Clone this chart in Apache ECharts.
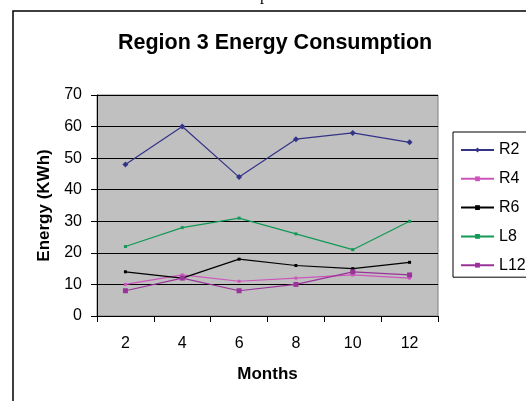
<!DOCTYPE html>
<html>
<head>
<meta charset="utf-8">
<script src="https://cdn.jsdelivr.net/npm/echarts@6/dist/echarts.min.js"></script>
<style>
html,body{margin:0;padding:0;background:#fff;}
#main{width:526px;height:401px;}
</style>
</head>
<body>
<div id="main"></div>
<script>
const months = ['2', '4', '6', '8', '10', '12'];
const R2 = [48, 60, 44, 56, 58, 55];
const R4 = [10, 13, 11, 12, 13, 12];
const R6 = [14, 12, 18, 16, 15, 17];
const L8 = [22, 28, 31, 26, 21, 30];
const L12 = [8, 12, 8, 10, 14, 13];
const yTicks = {min: 0, max: 70, interval: 10};

const font = 'Liberation Sans, Arial, sans-serif';
const chart = echarts.init(document.getElementById('main'));

function line(name, data, color, symbol, size) {
  return {
    name: name, type: 'line', data: data,
    symbol: symbol, symbolSize: size, showSymbol: true,
    lineStyle: {color: color, width: 1.2},
    itemStyle: {color: color},
    emphasis: {disabled: true},
    animation: false
  };
}

chart.setOption({
  animation: false,
  backgroundColor: '#ffffff',
  title: {
    text: 'Region 3 Energy Consumption',
    left: 113, top: 27,
    textStyle: {fontFamily: font, fontSize: 21.5, fontWeight: 'bold', color: '#000'}
  },
  graphic: [
    {type: 'rect', shape: {x: 13, y: 11, width: 700, height: 600},
     style: {fill: 'none', stroke: '#000', lineWidth: 1.5}, silent: true, z: 0},
    {type: 'text', left: 260, top: -12,
     style: {text: 'p', font: '16px "Liberation Serif", serif', fill: '#000'}, silent: true}
  ],
  legend: {
    orient: 'vertical',
    left: 453, top: 132,
    padding: [10, 40, 4, 7],
    itemWidth: 33, itemHeight: 6, itemGap: 12.8,
    backgroundColor: '#fff',
    borderColor: '#000', borderWidth: 1,
    textStyle: {fontFamily: font, fontSize: 16, color: '#000', lineHeight: 16},
    data: ['R2', 'R4', 'R6', 'L8', 'L12']
  },
  grid: {
    left: 97, top: 95, right: 88, bottom: 85,
    show: true, backgroundColor: '#C0C0C0', borderColor: '#808080', borderWidth: 1
  },
  xAxis: {
    type: 'category', data: months, boundaryGap: true,
    name: 'Months', nameLocation: 'middle', nameGap: 50,
    nameTextStyle: {fontFamily: font, fontSize: 17, fontWeight: 'bold', color: '#000'},
    axisLine: {lineStyle: {color: '#000', width: 1}},
    axisTick: {show: true, length: 6, inside: false, alignWithLabel: false, lineStyle: {color: '#000'}},
    axisLabel: {fontFamily: font, fontSize: 16, color: '#000', margin: 20}
  },
  yAxis: {
    type: 'value', min: yTicks.min, max: yTicks.max, interval: yTicks.interval,
    name: 'Energy (KWh)', nameLocation: 'middle', nameGap: 42, nameRotate: 90,
    nameTextStyle: {fontFamily: font, fontSize: 17, fontWeight: 'bold', color: '#000'},
    axisLine: {show: true, lineStyle: {color: '#000', width: 1}},
    axisTick: {show: true, length: 6, lineStyle: {color: '#000'}},
    axisLabel: {fontFamily: font, fontSize: 16, color: '#000', margin: 15},
    splitLine: {show: true, lineStyle: {color: '#000', width: 1}}
  },
  series: [
    line('R2', R2, '#333388', 'diamond', 6),
    line('R4', R4, '#cc55bb', 'rect', 3),
    line('R6', R6, '#000000', 'rect', 3),
    line('L8', L8, '#119955', 'rect', 3),
    line('L12', L12, '#993399', 'rect', 5)
  ]
});
</script>
</body>
</html>
